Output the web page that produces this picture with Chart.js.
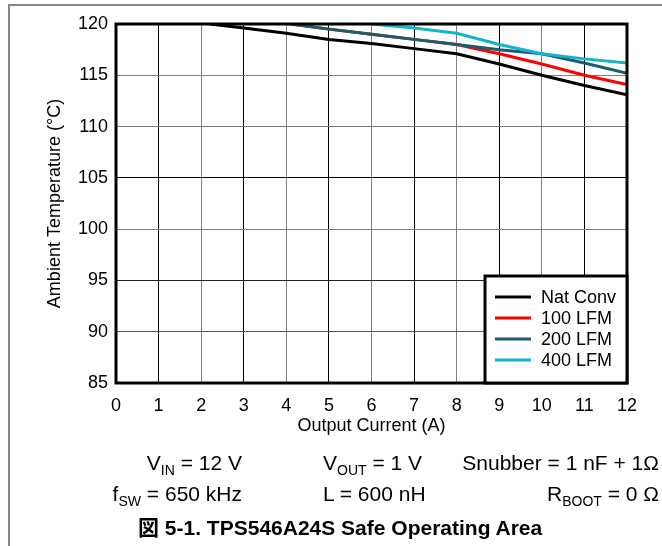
<!DOCTYPE html>
<html><head><meta charset="utf-8">
<script src="https://cdn.jsdelivr.net/npm/chart.js@4.4.1/dist/chart.umd.min.js"></script>
<style>
html,body{margin:0;padding:0;background:#fff;}
#wrap{position:relative;width:662px;height:546px;overflow:hidden;font-family:"Liberation Sans",Arial,"Noto Sans CJK JP",sans-serif;color:#000;}
#frame{position:absolute;left:8px;top:4px;width:700px;height:600px;border-top:2px solid #888;border-left:2px solid #888;}
canvas{position:absolute;left:0;top:0;}
.t{position:absolute;font-size:21px;line-height:21px;white-space:nowrap;}
.t sub{font-size:14px;line-height:0;vertical-align:-5px;}
.ttl{position:absolute;left:138px;top:517px;font-size:21px;line-height:21px;font-weight:bold;white-space:nowrap;}
</style></head><body>
<div id="wrap">
<div id="frame"></div>
<canvas id="c" width="662" height="546"></canvas>
<div class="t" style="right:420px;top:452px">V<sub>IN</sub> = 12 V</div>
<div class="t" style="left:323px;top:452px">V<sub>OUT</sub> = 1 V</div>
<div class="t" style="right:3px;top:452px">Snubber = 1 nF + 1Ω</div>
<div class="t" style="right:420px;top:483px">f<sub>SW</sub> = 650 kHz</div>
<div class="t" style="left:323px;top:483px">L = 600 nH</div>
<div class="t" style="right:3px;top:483px">R<sub>BOOT</sub> = 0 Ω</div>
<div class="ttl">図 5-1. TPS546A24S Safe Operating Area</div>
</div>
<script>
// ---- data ----
const seriesLabels = ['Nat Conv', '100 LFM', '200 LFM', '400 LFM'];
const seriesColors = ['#000000', '#ff0000', '#1b5d6e', '#12b5cb'];

const natConvX = [2.2, 3, 4, 5, 6, 7, 8, 9, 10, 11, 12];
const natConvY = [120, 119.6, 119.1, 118.5, 118.1, 117.6, 117.1, 116.1, 115, 114, 113.1];

const lfm100X = [4.1, 5, 6, 7, 8, 9, 10, 11, 12];
const lfm100Y = [120, 119.5, 119, 118.5, 118, 117.1, 116.1, 115, 114.1];

const lfm200X = [4.1, 5, 6, 7, 8, 9, 10, 11, 12];
const lfm200Y = [120, 119.5, 119, 118.5, 118, 117.5, 117.1, 116.2, 115.2];

const lfm400X = [6, 7, 8, 9, 10, 11, 12];
const lfm400Y = [120, 119.6, 119.1, 118, 117.1, 116.6, 116.2];

const xTickValues = [0, 1, 2, 3, 4, 5, 6, 7, 8, 9, 10, 11, 12];
const yTickValues = [85, 90, 95, 100, 105, 110, 115, 120];

// ---- chart ----
const FONT = 'Liberation Sans, Arial, sans-serif';
const pts = (xs, ys) => xs.map((x, i) => ({x: x, y: ys[i]}));

const yGridColors = {85:'#000', 90:'#555', 95:'#222', 100:'#808080', 105:'#000', 110:'#777', 115:'#808080', 120:'#000'};

const frameLegend = {
  id: 'frameLegend',
  afterDatasetsDraw(chart) {
    const {ctx, chartArea: a} = chart;
    ctx.save();
    ctx.strokeStyle = '#000';
    ctx.lineWidth = 3;
    ctx.strokeRect(a.left, a.top, a.right - a.left, a.bottom - a.top);
    ctx.restore();
  },
  afterDraw(chart) {
    const {ctx, chartArea: a} = chart;
    const w = 142, h = 107;
    const L = a.right - w, T = a.bottom - h;
    ctx.save();
    ctx.fillStyle = '#fff';
    ctx.fillRect(L, T, w, h);
    ctx.strokeStyle = '#000';
    ctx.lineWidth = 3;
    ctx.strokeRect(L, T, w, h);
    ctx.font = '18px ' + FONT;
    ctx.textBaseline = 'middle';
    ctx.textAlign = 'left';
    chart.data.datasets.forEach((ds, i) => {
      const y = T + 21 + i * 21;
      ctx.strokeStyle = ds.borderColor;
      ctx.lineWidth = 3;
      ctx.beginPath();
      ctx.moveTo(L + 10, y);
      ctx.lineTo(L + 46, y);
      ctx.stroke();
      ctx.fillStyle = '#000';
      ctx.fillText(ds.label, L + 56, y + 1);
    });
    ctx.restore();
  }
};

const xsList = [natConvX, lfm100X, lfm200X, lfm400X];
const ysList = [natConvY, lfm100Y, lfm200Y, lfm400Y];
const orders = [0, 3, 2, 1];

new Chart(document.getElementById('c'), {
  type: 'line',
  data: {
    datasets: seriesLabels.map((lab, i) => ({
      label: lab,
      data: pts(xsList[i], ysList[i]),
      borderColor: seriesColors[i],
      backgroundColor: seriesColors[i],
      borderWidth: 3,
      pointRadius: 0,
      tension: 0,
      fill: false,
      order: orders[i]
    }))
  },
  options: {
    responsive: false,
    animation: false,
    devicePixelRatio: 1,
    layout: {padding: {left: 0, top: 24, right: 35, bottom: 108}},
    plugins: {legend: {display: false}, tooltip: {enabled: false}},
    scales: {
      x: {
        type: 'linear', min: 0, max: 12,
        afterBuildTicks: s => { s.ticks = xTickValues.map(v => ({value: v})); },
        afterFit: s => { s.height = 55; },
        ticks: {padding: 12, color: '#000', font: {family: FONT, size: 18}},
        grid: {drawTicks: false, lineWidth: 1,
          color: c => (c.tick && c.tick.value % 2 === 1) ? '#000' : '#808080'},
        border: {display: false},
        title: {display: true, text: 'Output Current (A)', color: '#000',
          font: {family: FONT, size: 18}, padding: {top: 0, bottom: 1}}
      },
      y: {
        type: 'linear', min: 85, max: 120,
        afterBuildTicks: s => { s.ticks = yTickValues.map(v => ({value: v})); },
        afterFit: s => { s.width = 116; },
        ticks: {padding: 8, color: '#000', font: {family: FONT, size: 18}},
        grid: {drawTicks: false, lineWidth: 1,
          color: c => (c.tick && yGridColors[c.tick.value]) || '#666'},
        border: {display: false},
        title: {display: true, text: 'Ambient Temperature (°C)', color: '#000',
          font: {family: FONT, size: 18}, padding: {top: 44, bottom: 0}}
      }
    }
  },
  plugins: [frameLegend]
});
</script>
</body></html>
